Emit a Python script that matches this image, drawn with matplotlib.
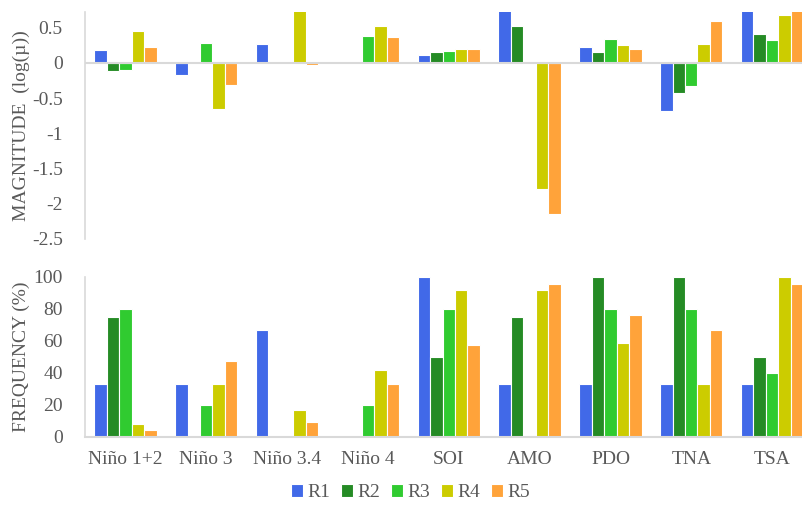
import numpy as np
import matplotlib.pyplot as plt
from matplotlib.ticker import FuncFormatter

plt.rcParams['font.family'] = ['Liberation Serif', 'DejaVu Serif']

# indices climaticos
indices = ['Niño 1+2', 'Niño 3', 'Niño 3.4', 'Niño 4', 'SOI', 'AMO', 'PDO', 'TNA', 'TSA']
series = ['R1', 'R2', 'R3', 'R4', 'R5']
colores = ['#4169E8', '#258B25', '#30CB30', '#CCCC00', '#FFA33A']

# magnitud log(mu), los valores que salen del grafico se cortan arriba
mag_r1 = [0.18, -0.17, 0.27, 0.0, 0.11, 0.80, 0.22, -0.69, 0.80]
mag_r2 = [-0.11, 0.0, 0.0, 0.0, 0.15, 0.52, 0.16, -0.43, 0.41]
mag_r3 = [-0.10, 0.28, 0.0, 0.38, 0.17, 0.0, 0.34, -0.33, 0.33]
mag_r4 = [0.45, -0.65, 0.80, 0.52, 0.20, -1.79, 0.25, 0.27, 0.68]
mag_r5 = [0.23, -0.31, -0.03, 0.37, 0.20, -2.14, 0.20, 0.60, 0.80]

# frecuencia (%)
frec_r1 = [33.3, 33.3, 66.7, 0, 100, 33.3, 33.3, 33.3, 33.3]
frec_r2 = [75, 0, 0, 0, 50, 75, 100, 100, 50]
frec_r3 = [80, 20, 0, 20, 80, 0, 80, 80, 40]
frec_r4 = [8.3, 33.3, 16.7, 41.7, 91.7, 91.7, 58.3, 33.3, 100]
frec_r5 = [4.5, 47.6, 9.5, 33.3, 57.1, 95.2, 76.2, 66.7, 95.2]

magnitudes = [mag_r1, mag_r2, mag_r3, mag_r4, mag_r5]
frecuencias = [frec_r1, frec_r2, frec_r3, frec_r4, frec_r5]

gris_texto = '#595959'
gris_eje = '#D9D9D9'
fs = 14

fig = plt.figure(figsize=(8.02, 5.05), dpi=100)
ax1 = fig.add_axes([0.106, 0.527, 0.894, 0.449])
ax2 = fig.add_axes([0.106, 0.135, 0.894, 0.317])

x = np.arange(len(indices))
ancho = 0.154

for i, (serie, color) in enumerate(zip(series, colores)):
    desp = (i - 2) * ancho
    ax1.bar(x + desp, magnitudes[i], ancho, color=color, edgecolor='white', linewidth=0.8)
    ax2.bar(x + desp, frecuencias[i], ancho, color=color, edgecolor='white', linewidth=0.8, label=serie)

fmt = FuncFormatter(lambda v, p: ('%g' % v).replace('\u2212', '-'))

ax1.set_xlim(-0.5, 8.37)
ax1.set_ylim(-2.5, 0.72)
ax1.set_yticks([0.5, 0, -0.5, -1, -1.5, -2, -2.5])
ax1.yaxis.set_major_formatter(fmt)
ax1.axhline(0, color=gris_eje, linewidth=1.5, zorder=3)
ax1.set_xticks([])
ax1.set_ylabel('MAGNITUDE  (log(µ))', fontsize=fs, color=gris_texto)

ax2.set_xlim(-0.5, 8.37)
ax2.set_ylim(0, 100)
ax2.set_yticks([0, 20, 40, 60, 80, 100])
ax2.set_xticks(x)
ax2.set_xticklabels(indices)
ax2.set_ylabel('FREQUENCY (%)', fontsize=fs, color=gris_texto)

for ax in (ax1, ax2):
    for lado in ['top', 'right', 'bottom']:
        ax.spines[lado].set_visible(False)
    ax.spines['left'].set_color(gris_eje)
    ax.spines['left'].set_linewidth(1.2)
    ax.tick_params(length=0, labelsize=fs, colors=gris_texto, pad=16)
    ax.yaxis.set_label_coords(-0.077, 0.5)
ax2.spines['bottom'].set_visible(True)
ax2.spines['bottom'].set_color(gris_eje)
ax2.spines['bottom'].set_linewidth(1.5)
ax2.spines['bottom'].set_zorder(3)
ax2.tick_params(axis='x', pad=10)

fig.legend(loc='center', bbox_to_anchor=(0.512, 0.024), ncol=5, frameon=False,
           fontsize=fs, handlelength=0.6, handleheight=0.6, handletextpad=0.25,
           columnspacing=0.55, labelcolor=gris_texto)

fig.savefig('out.png', dpi=100)
